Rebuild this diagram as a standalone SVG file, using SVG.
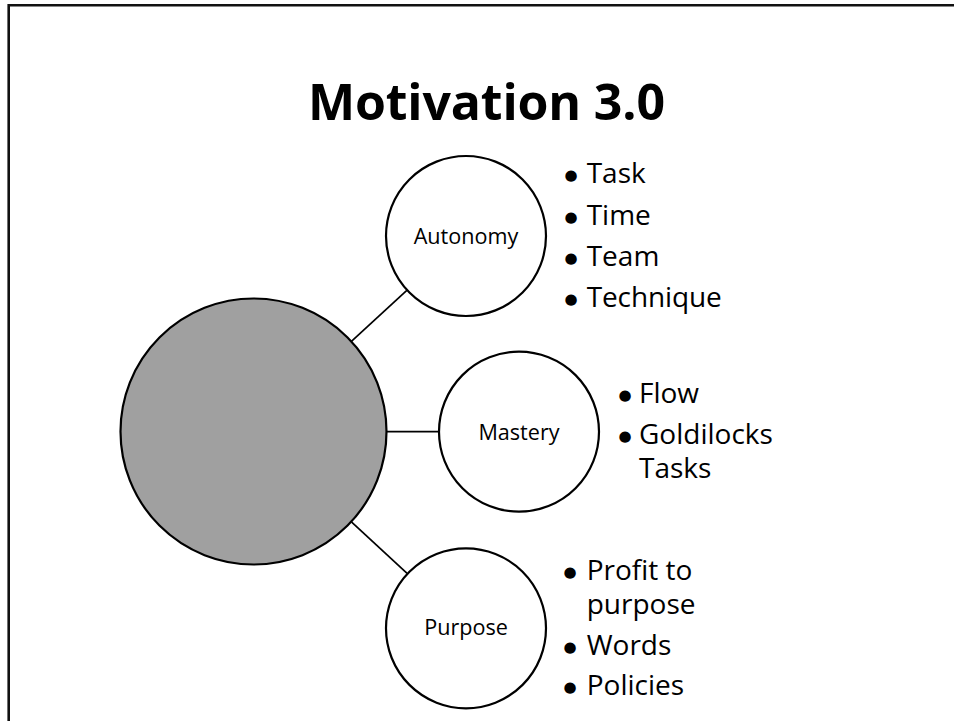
<svg xmlns="http://www.w3.org/2000/svg" width="954" height="721" viewBox="0 0 954 721">
  <style>
    .frame { fill: none; stroke: #111; stroke-width: 2.6; }
    .link { stroke: #000; stroke-width: 1.7; fill: none; }
    .hub { fill: #a0a0a0; stroke: #000; stroke-width: 2.2; }
    .node { fill: #fff; stroke: #000; stroke-width: 2.2; }
    .title { font-family: "Open Sans", "Liberation Sans", sans-serif; font-weight: 700; font-size: 50px; fill: #000; }
    .label { font-family: "Open Sans", "Liberation Sans", sans-serif; font-size: 21.6px; fill: #000; text-anchor: middle; }
    .item { font-family: "Open Sans", "Liberation Sans", sans-serif; font-size: 28px; fill: #000; }
    .dot { font-family: "DejaVu Sans", sans-serif; font-size: 15px; fill: #000; text-anchor: middle; }
  </style>

  <rect width="954" height="721" fill="#fff"/>
  <!-- slide frame: only top and left edges are visible -->
  <path class="frame" d="M8.7,721 V5.3 H954"/>

  <text class="title" x="308" y="120" textLength="357" lengthAdjust="spacing">Motivation 3.0</text>

  <g id="connectors">
    <line class="link" x1="351.4" y1="341.4" x2="407.1" y2="290.2"/>
    <line class="link" x1="386.5" y1="431.7" x2="439" y2="431.7"/>
    <line class="link" x1="351.4" y1="521.8" x2="407.1" y2="573.3"/>
  </g>

  <g id="hub">
    <circle class="hub" cx="253.5" cy="431.5" r="133"/>
  </g>

  <!-- bullet markers sit about 8px above each line's baseline -->
  <g id="autonomy">
    <circle class="node" cx="466" cy="236" r="80"/>
    <text class="label" x="466" y="244">Autonomy</text>
    <text class="dot" x="571" y="180.3">●</text>
    <text class="item" x="586.7" y="183.3">Task</text>
    <text class="dot" x="571" y="222">●</text>
    <text class="item" x="586.7" y="225">Time</text>
    <text class="dot" x="571" y="262.7">●</text>
    <text class="item" x="586.7" y="265.7">Team</text>
    <text class="dot" x="571" y="303.7">●</text>
    <text class="item" x="586.7" y="306.7" textLength="135" lengthAdjust="spacing">Technique</text>
  </g>

  <g id="mastery">
    <circle class="node" cx="519" cy="431.7" r="80"/>
    <text class="label" x="519" y="439.5">Mastery</text>
    <text class="dot" x="625" y="400.3">●</text>
    <text class="item" x="639" y="403.3">Flow</text>
    <text class="dot" x="625" y="441">●</text>
    <text class="item" x="639" y="444"><tspan x="639" y="444">Goldilocks</tspan><tspan x="639" y="478.3">Tasks</tspan></text>
  </g>

  <g id="purpose">
    <circle class="node" cx="466" cy="628.3" r="80"/>
    <text class="label" x="466" y="635">Purpose</text>
    <text class="dot" x="570" y="576.5">●</text>
    <text class="item" x="586.7" y="579.5"><tspan x="586.7" y="579.5">Profit to</tspan><tspan x="586.7" y="614">purpose</tspan></text>
    <text class="dot" x="570" y="652">●</text>
    <text class="item" x="586.7" y="655">Words</text>
    <text class="dot" x="570" y="692">●</text>
    <text class="item" x="586.7" y="695">Policies</text>
  </g>
</svg>
